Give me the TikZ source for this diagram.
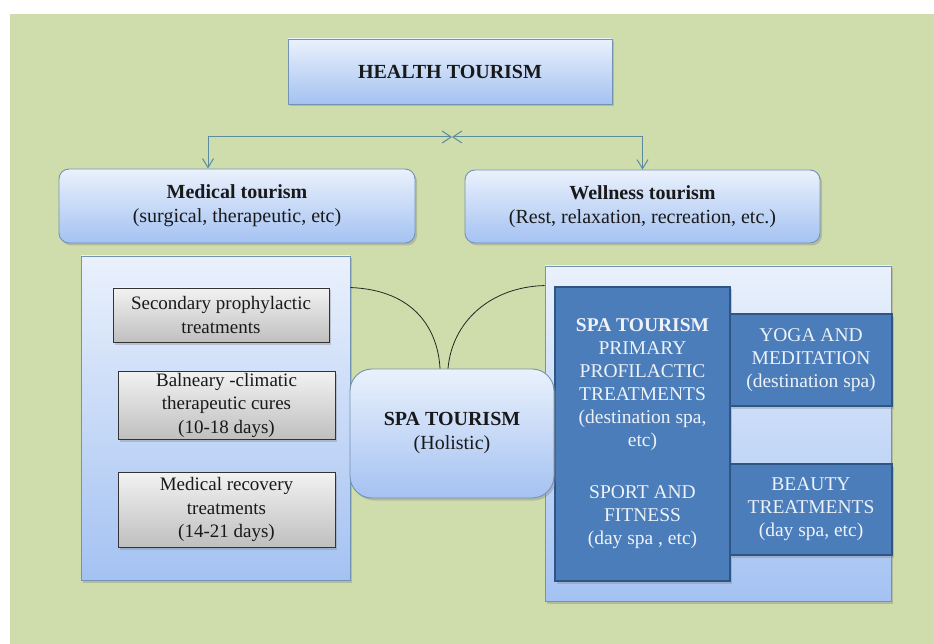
\documentclass[tikz,border=0pt]{standalone}
\usepackage{fontspec}
\setmainfont{Liberation Serif}
\usetikzlibrary{arrows.meta,shadows}
\definecolor{bgg}{HTML}{CFDCAC}
\definecolor{edgeb}{HTML}{7393B3}
\definecolor{ltop}{HTML}{EAF1FC}
\definecolor{lbot}{HTML}{A4C2F2}
\definecolor{dkb}{HTML}{4A7DBA}
\definecolor{dkedge}{HTML}{2E5583}
\definecolor{conncol}{HTML}{5B8C9E}
\definecolor{wtxt}{HTML}{EEF2F8}
\tikzset{
  sh/.style={drop shadow={opacity=0.35,shadow xshift=2pt,shadow yshift=-2.5pt}},
  bluebox/.style={draw=edgeb,line width=0.9pt,top color=ltop,bottom color=lbot,sh,align=center,inner sep=2pt,
     text=black!90,font=\fontsize{20}{24}\selectfont},
  panel/.style={draw=edgeb,line width=0.9pt,top color=ltop,bottom color=lbot,sh},
  graybox/.style={draw=black!80,line width=0.9pt,top color=white!95!black,bottom color=black!25,sh,align=center,
     inner sep=1pt,text=black!90,font=\fontsize{19}{23.5}\selectfont},
  darkbox/.style={draw=dkedge,line width=1.5pt,fill=dkb,text=wtxt,align=center,inner sep=1pt,
     font=\fontsize{19.5}{23}\selectfont,sh},
  conn/.style={draw=conncol,line width=1pt,{Straight Barb[length=9pt,width=12pt]}-{Straight Barb[length=9pt,width=11pt]}},
  curve/.style={draw=black!85,line width=0.8pt}
}
\begin{document}
\begin{tikzpicture}[x=1pt,y=-1pt]
\useasboundingbox (0,0) rectangle (934,644);
\fill[white] (0,0) rectangle (934,644);
\fill[bgg] (10,14) rectangle (934,644);

% top
\node[bluebox,minimum width=324pt,minimum height=65pt] (health) at (450,71.5) {\textbf{HEALTH TOURISM}};
\node[bluebox,rounded corners=10pt,minimum width=356pt,minimum height=74pt] (med) at (237,206)
  {\textbf{Medical tourism}\\(surgical, therapeutic, etc)};
\node[bluebox,rounded corners=10pt,minimum width=355pt,minimum height=73pt] (well) at (642.5,206.5)
  {\textbf{Wellness tourism}\\(Rest, relaxation, recreation, etc.)};

\coordinate (mid) at (452,137);
\draw[conn] (mid) -| ([xshift=-29pt]med.north);
\draw[conn] (mid) -| (well.north);

% left panel
\node[panel,minimum width=269pt,minimum height=324pt] (lpanel) at (215.5,418) {};
\node[graybox,minimum width=216pt,minimum height=54pt] (sec) at (221,315) {Secondary prophylactic\\treatments};
\node[graybox,minimum width=217pt,minimum height=68pt] (baln) at (226.5,405) {Balneary -climatic\\therapeutic cures\\(10-18 days)};
\node[graybox,minimum width=217pt,minimum height=75pt] (medrec) at (226.5,509.5) {Medical recovery\\treatments\\(14-21 days)};

% right panel
\node[panel,minimum width=346pt,minimum height=335pt] (rpanel) at (718,433.5) {};
\node[darkbox,minimum width=175pt,minimum height=294pt] (spacol) at (642.5,434)
  {\textbf{SPA TOURISM}\\PRIMARY\\PROFILACTIC\\TREATMENTS\\(destination spa,\\etc)\\[29pt]SPORT AND\\FITNESS\\(day spa , etc)};
\node[darkbox,minimum width=162pt,minimum height=92pt] (yoga) at (811,360) {YOGA AND\\MEDITATION\\(destination spa)};
\node[darkbox,minimum width=162pt,minimum height=91pt] (beauty) at (811,509.5) {BEAUTY\\TREATMENTS\\(day spa, etc)};

% central spa
\node[bluebox,rounded corners=22pt,minimum width=204pt,minimum height=129pt] (spa) at (452,433.5)
  {\textbf{SPA TOURISM}\\(Holistic)};

\draw[curve] ([yshift=-32pt]lpanel.north east) .. controls (415,290) and (438,330) .. ([xshift=-12pt]spa.north);
\draw[curve] ([xshift=-4pt]spa.north) .. controls (452,322) and (490,287) .. ([yshift=-20pt]rpanel.north west);
\end{tikzpicture}
\end{document}
